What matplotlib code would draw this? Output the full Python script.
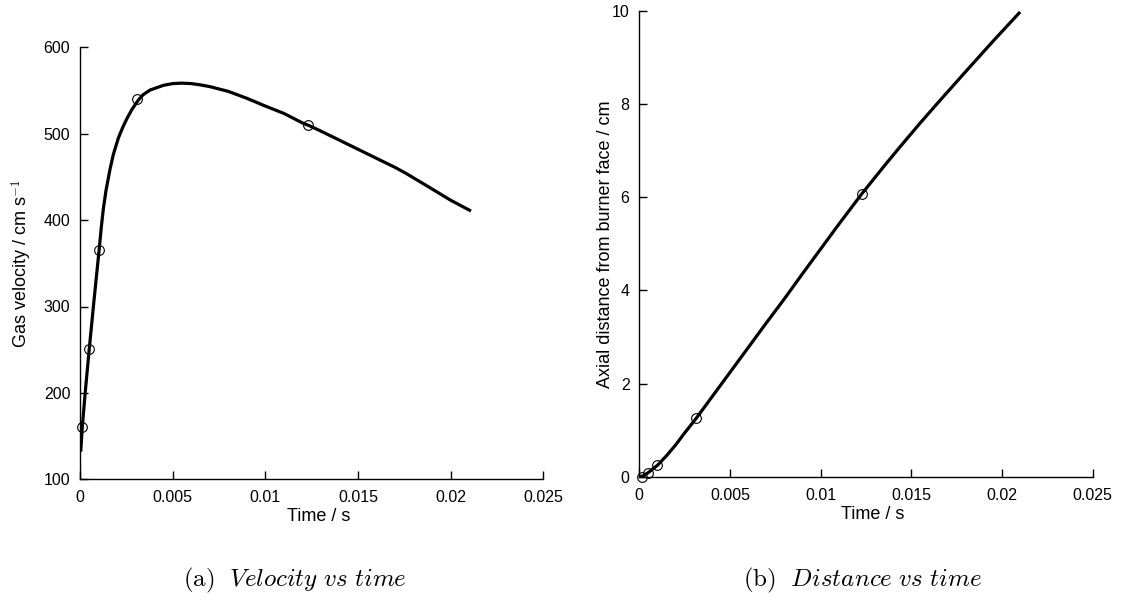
import matplotlib
matplotlib.use("Agg")
import matplotlib.pyplot as plt

plt.rcParams['font.family'] = ['Liberation Sans', 'DejaVu Sans']
plt.rcParams['mathtext.fontset'] = 'cm'

# Gas velocity profile (time in s, velocity in cm/s)
vel_time = [0.00004, 0.000125, 0.0003, 0.0005, 0.00075, 0.00103, 0.00115,
            0.00126, 0.0014, 0.00162, 0.0018, 0.00207, 0.0023, 0.00252,
            0.0028, 0.00315, 0.0034, 0.00378, 0.0045, 0.005, 0.0055,
            0.006, 0.0065, 0.007, 0.008, 0.009, 0.010, 0.011, 0.012,
            0.0124, 0.013, 0.014, 0.015, 0.016, 0.017, 0.0176, 0.019,
            0.020, 0.0211]
velocity = [132, 161, 205, 251, 306, 365, 392,
            413, 434, 459, 476, 495, 507, 517,
            528, 539, 545, 550.5, 556, 558, 558.5,
            558, 556.5, 554.5, 549, 541, 532, 523.5, 512.5,
            509, 503, 492.5, 482, 471.5, 461, 454, 436,
            423, 410.5]

# Axial distance from burner face (cm)
dist_time = [0.0, 0.0002, 0.0005, 0.001, 0.0015, 0.002, 0.0025, 0.00313,
             0.004, 0.005, 0.006, 0.007, 0.008, 0.009, 0.010, 0.011,
             0.01226, 0.0135, 0.01437, 0.0155, 0.01658, 0.018, 0.0195, 0.021]
distance = [0.0, 0.015, 0.09, 0.245, 0.45, 0.68, 0.94, 1.25,
            1.71, 2.24, 2.77, 3.30, 3.82, 4.36, 4.89, 5.42,
            6.07, 6.67, 7.08, 7.60, 8.08, 8.70, 9.35, 9.98]

# Sampled points
samp_time = [0.00013, 0.00048, 0.001, 0.0031, 0.0123]
samp_velocity = [161, 251, 365, 540, 510]
samp_distance = [0.0, 0.086, 0.245, 1.25, 6.07]

time_ticks = [0, 0.005, 0.01, 0.015, 0.02, 0.025]
time_labels = ['0', '0.005', '0.01', '0.015', '0.02', '0.025']

fig = plt.figure(figsize=(11.36, 6.03), dpi=100)
W, H = 1136, 603


def axes_px(x0, x1, ytop, ybot):
    return fig.add_axes([x0 / W, (H - ybot) / H, (x1 - x0) / W, (ybot - ytop) / H])


def style(ax):
    for s in ('top', 'right'):
        ax.spines[s].set_visible(False)
    for s in ('left', 'bottom'):
        ax.spines[s].set_linewidth(1.0)
    ax.tick_params(axis='both', direction='in', length=6, width=1.0,
                   labelsize=11.5, colors='black')
    ax.tick_params(axis='x', pad=8)
    ax.tick_params(axis='y', pad=7)
    ax.set_xlim(0, 0.025)
    ax.set_xticks(time_ticks)
    ax.set_xticklabels(time_labels)


ax1 = axes_px(80, 543.3, 47.3, 479.3)
style(ax1)
ax1.plot(vel_time, velocity, color='black', lw=2.3, solid_joinstyle='round',
         solid_capstyle='butt', zorder=3)
ax1.plot(samp_time, samp_velocity, 'o', ms=7, mfc='none', mec='black', mew=0.8,
         zorder=4, clip_on=False)
ax1.set_ylim(100, 600)
ax1.set_yticks([100, 200, 300, 400, 500, 600])
ax1.set_ylabel(r'Gas velocity / cm s$^{\mathsf{-1}}$', fontsize=13)
ax1.yaxis.set_label_coords(-0.099, 0.5)
ax1.set_xlabel('Time / s', fontsize=13)
ax1.xaxis.set_label_coords(0.515, -0.066)

ax2 = axes_px(639.3, 1092.7, 11, 476.7)
style(ax2)
ax2.plot(dist_time, distance, color='black', lw=2.3, solid_joinstyle='round',
         solid_capstyle='butt', zorder=3)
ax2.plot(samp_time, samp_distance, 'o', ms=7, mfc='none', mec='black', mew=0.8,
         zorder=4, clip_on=False)
ax2.set_ylim(0, 10)
ax2.set_yticks([0, 2, 4, 6, 8, 10])
ax2.set_ylabel('Axial distance from burner face / cm', fontsize=13)
ax2.yaxis.set_label_coords(-0.056, 0.5)
ax2.set_xlabel('Time / s', fontsize=13)
ax2.xaxis.set_label_coords(0.515, -0.063)

fig.text(295 / W, 1 - 580 / H, r'$\mathrm{(a)}\ \ \mathit{Velocity\ vs\ time}$',
         ha='center', va='center', fontsize=18)
fig.text(863 / W, 1 - 580 / H, r'$\mathrm{(b)}\ \ \mathit{Distance\ vs\ time}$',
         ha='center', va='center', fontsize=18)

fig.savefig('out.png', dpi=100, facecolor='white')
